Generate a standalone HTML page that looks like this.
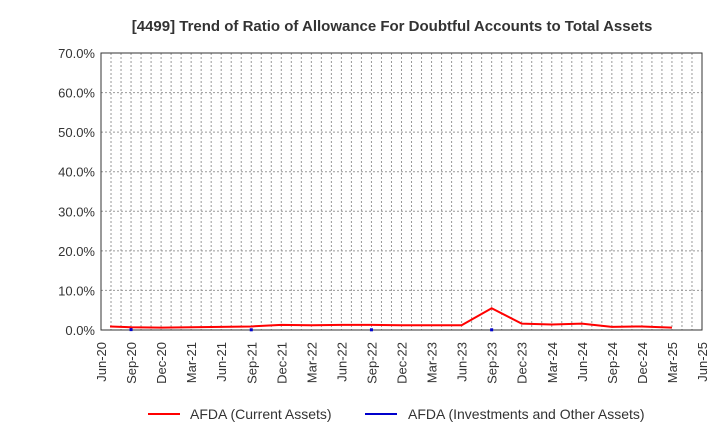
<!DOCTYPE html>
<html><head><meta charset="utf-8"><style>
body{margin:0;background:#fff;font-family:"Liberation Sans",sans-serif;}
</style></head><body>
<svg width="720" height="440" xmlns="http://www.w3.org/2000/svg">
<text x="392" y="31" text-anchor="middle" font-size="15" font-weight="bold" fill="#333">[4499]  Trend of Ratio of Allowance For Doubtful Accounts to Total Assets</text>
<g id="grid"></g>
<g id="axes"></g>
<g id="series"></g>
<g>
<line x1="148" y1="414" x2="180" y2="414" stroke="#f00" stroke-width="2"/>
<text x="190" y="419" font-size="14" fill="#333">AFDA (Current Assets)</text>
<line x1="365" y1="414" x2="397" y2="414" stroke="#00c" stroke-width="2"/>
<text x="408" y="419" font-size="14" fill="#333">AFDA (Investments and Other Assets)</text>
</g>
</svg>
<script>
const xLabels=["Jun-20","Sep-20","Dec-20","Mar-21","Jun-21","Sep-21","Dec-21","Mar-22","Jun-22","Sep-22","Dec-22","Mar-23","Jun-23","Sep-23","Dec-23","Mar-24","Jun-24","Sep-24","Dec-24","Mar-25","Jun-25"];
const yTicks=[0,10,20,30,40,50,60,70];
const currentAssets=[0.9,0.7,0.6,0.7,0.8,0.9,1.3,1.2,1.3,1.3,1.2,1.2,1.2,5.5,1.6,1.4,1.6,0.8,0.9,0.6];
const currentIdx=[0.3,1,2,3,4,5,6,7,8,9,10,11,12,13,14,15,16,17,18,19];
const investIdx=[1,5,9,13];
const investVals=[0.1,0.05,0.05,0.05];
const NS="http://www.w3.org/2000/svg";
const L=101,R=702,T=53,B=330;
const xs=i=>L+(R-L)*i/20;
const ys=v=>B-(B-T)*v/70;
function mk(tag,attrs,parent){const e=document.createElementNS(NS,tag);for(const k in attrs)e.setAttribute(k,attrs[k]);parent.appendChild(e);return e;}
const grid=document.getElementById('grid'),axes=document.getElementById('axes'),ser=document.getElementById('series');
for(let m=1;m<60;m++){const x=L+(R-L)*m/60;const g=mk('line',{x1:x,y1:T,x2:x,y2:B,stroke:'#999','stroke-dasharray':'2,2','stroke-width':1},grid);

}
yTicks.forEach(v=>{const y=ys(v);if(v>0){const g=mk('line',{x1:L,y1:y,x2:R,y2:y,stroke:'#999','stroke-dasharray':'2,2'},grid);

}
const t=mk('text',{x:L-6,y:y+5,'text-anchor':'end','font-size':13,fill:'#333'},axes);t.textContent=v.toFixed(1)+'%';

});
const box=mk('rect',{x:L,y:T,width:R-L,height:B-T,fill:'none',stroke:'#333'},axes);


xLabels.forEach((s,i)=>{const x=xs(i);const t=mk('text',{x:x+5,y:B+12,'text-anchor':'end','font-size':13,fill:'#333',transform:`rotate(-90 ${x+5} ${B+12})`},axes);t.textContent=s;

});
const pl=mk('polyline',{points:currentAssets.map((v,i)=>xs(currentIdx[i])+','+ys(v)).join(' '),fill:'none',stroke:'#f00','stroke-width':2},ser);


investIdx.forEach((ix,k)=>{const c=mk('rect',{x:xs(ix)-1.5,y:ys(investVals[k])-1.5,width:3,height:3,fill:'#00c'},ser);

});
</script>
</body></html>
